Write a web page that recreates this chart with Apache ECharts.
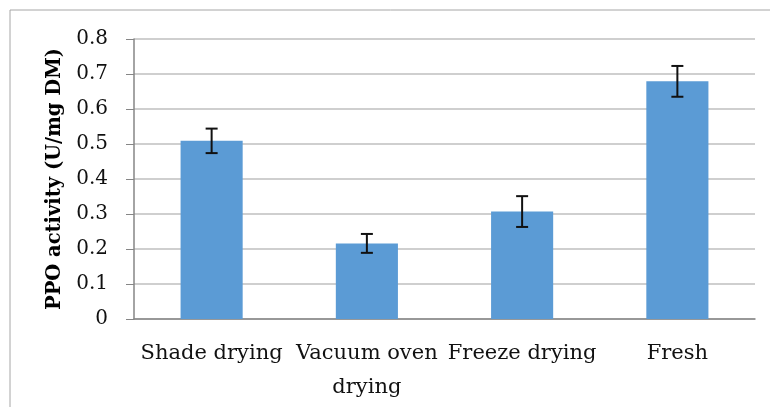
<!DOCTYPE html>
<html>
<head>
<meta charset="utf-8">
<script src="https://cdn.jsdelivr.net/npm/echarts@6/dist/echarts.min.js"></script>
<style>
  html, body { margin: 0; padding: 0; background: #fff; }
  #chart { width: 770px; height: 407px; }
</style>
</head>
<body>
<div id="chart"></div>
<script>
// values
const categories = ["Shade drying", "Vacuum oven\ndrying", "Freeze drying", "Fresh"];
const activity = [0.509, 0.216, 0.307, 0.679];
const errors = [0.035, 0.027, 0.044, 0.044];

const axisGray = "#868686";
const font = "'DejaVu Serif', serif";

const chart = echarts.init(document.getElementById("chart"));

const errorData = activity.map((v, i) => [i, v - errors[i], v + errors[i]]);

chart.setOption({
  animation: false,
  graphic: [
    {
      type: "rect",
      shape: { x: 10, y: 10, width: 800, height: 450 },
      style: { fill: "none", stroke: "#a6a6a6", lineWidth: 1 },
      silent: true,
    },
  ],
  grid: { left: 134, right: 15, top: 39, bottom: 88 },
  xAxis: {
    type: "category",
    data: categories,
    axisLine: { lineStyle: { color: axisGray, width: 1.5 } },
    axisTick: { length: 8, lineStyle: { color: axisGray } },
    axisLabel: {
      color: "#111",
      fontFamily: font,
      fontSize: 21,
      lineHeight: 34,
      margin: 18,
      interval: 0,
    },
  },
  yAxis: {
    type: "value",
    min: 0,
    max: 0.8,
    interval: 0.1,
    name: "PPO activity (U/mg DM)",
    nameLocation: "middle",
    nameGap: 66,
    nameTextStyle: {
      color: "#000",
      fontFamily: font,
      fontSize: 19.5,
      fontWeight: "bold",
    },
    axisLine: { show: true, lineStyle: { color: axisGray, width: 1.5 } },
    axisTick: { show: true, length: 8, lineStyle: { color: axisGray } },
    splitLine: { lineStyle: { color: "#bfbfbf", width: 1.5 } },
    axisLabel: {
      color: "#111",
      fontFamily: font,
      fontSize: 20,
      margin: 26,
      formatter: (v) => (v === 0 ? "0" : v.toFixed(1)),
    },
  },
  series: [
    {
      type: "bar",
      data: activity,
      barWidth: "40%",
      itemStyle: { color: "#5b9bd5" },
    },
    {
      type: "custom",
      data: errorData,
      z: 10,
      renderItem: (params, api) => {
        const lo = api.coord([api.value(0), api.value(1)]);
        const hi = api.coord([api.value(0), api.value(2)]);
        const half = 6;
        const style = { stroke: "#111", lineWidth: 2 };
        return {
          type: "group",
          children: [
            { type: "line", shape: { x1: hi[0], y1: hi[1], x2: lo[0], y2: lo[1] }, style },
            { type: "line", shape: { x1: hi[0] - half, y1: hi[1], x2: hi[0] + half, y2: hi[1] }, style },
            { type: "line", shape: { x1: lo[0] - half, y1: lo[1], x2: lo[0] + half, y2: lo[1] }, style },
          ],
        };
      },
    },
  ],
});
</script>
</body>
</html>
